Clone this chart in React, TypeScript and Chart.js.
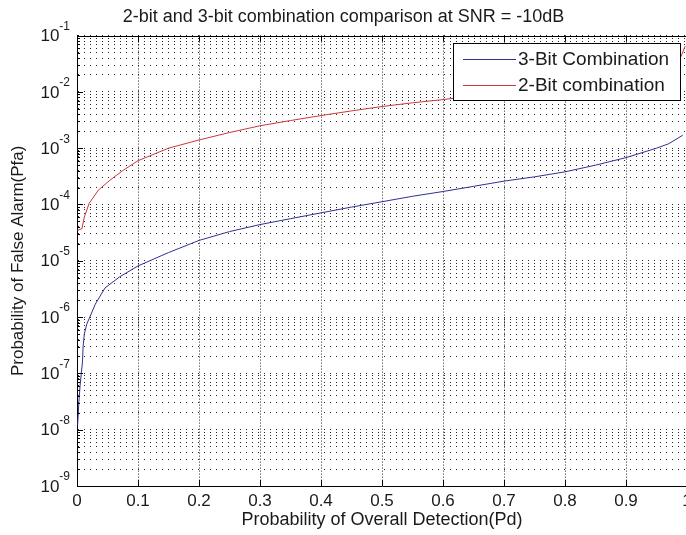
import React, { useEffect, useRef } from "react";
import { Chart, registerables } from "chart.js";

Chart.register(...registerables);

// ---------- data ----------
const TITLE = "2-bit and 3-bit combination comparison at SNR = -10dB";
const X_TITLE = "Probability of Overall Detection(Pd)";
const Y_TITLE = "Probability of False Alarm(Pfa)";
const SERIES_NAMES = ["3-Bit Combination", "2-Bit combination"];

const X_TICKS = [0, 0.1, 0.2, 0.3, 0.4, 0.5, 0.6, 0.7, 0.8, 0.9, 1];
const Y_EXPONENTS = [-9, -8, -7, -6, -5, -4, -3, -2, -1];

const pd3Bit = [
  0.001, 0.003, 0.005, 0.007, 0.009, 0.01, 0.012, 0.016, 0.021, 0.03, 0.046,
  0.07, 0.1, 0.15, 0.2, 0.25, 0.3, 0.35, 0.4, 0.45, 0.5, 0.55, 0.6, 0.65, 0.7,
  0.75, 0.8, 0.85, 0.9, 0.95, 0.97, 0.993,
];
const pfa3Bit = [
  1.2e-8, 3e-8, 6e-8, 1e-7, 1.6e-7, 3e-7, 5e-7, 7.5e-7, 1.0e-6, 1.7e-6, 3.3e-6,
  5.2e-6, 8.1e-6, 1.4e-5, 2.3e-5, 3.3e-5, 4.4e-5, 5.6e-5, 7.1e-5, 9e-5,
  1.12e-4, 1.4e-4, 1.7e-4, 2.1e-4, 2.6e-4, 3.1e-4, 3.8e-4, 5.0e-4, 6.8e-4,
  1.0e-3, 1.2e-3, 1.7e-3,
];

const pd2Bit = [
  0.001, 0.008, 0.012, 0.02, 0.035, 0.054, 0.075, 0.1, 0.15, 0.2, 0.25, 0.3,
  0.35, 0.4, 0.45, 0.5, 0.55, 0.6, 0.65, 0.7, 0.75, 0.8, 0.85, 0.9, 0.95, 0.98,
  0.99, 0.997,
];
const pfa2Bit = [
  3.5e-5, 3.7e-5, 6e-5, 1.05e-4, 1.8e-4, 2.7e-4, 4e-4, 6e-4, 1.0e-3, 1.4e-3,
  1.9e-3, 2.5e-3, 3.1e-3, 3.8e-3, 4.6e-3, 5.5e-3, 6.4e-3, 7.3e-3, 8.5e-3,
  1.0e-2, 1.2e-2, 1.45e-2, 1.8e-2, 2.3e-2, 2.8e-2, 3.5e-2, 4.2e-2, 6.5e-2,
];

// ---------- style ----------
const FONT = "'Liberation Sans', Arial, Helvetica, sans-serif";
const TEXT = "#1a1a1a";
const BLUE = "#2f3190";
const RED = "#c8393e";
const CANVAS_W = 700;
const CANVAS_H = 535;

const decorPlugin = {
  id: "matlabDecor",
  afterDraw(chart: any) {
    const { ctx, chartArea } = chart;
    const { left, right, top, bottom } = chartArea;
    const x = chart.scales.x;
    const y = chart.scales.y;
    ctx.save();

    // top & right border
    ctx.strokeStyle = "#000";
    ctx.lineWidth = 1;
    ctx.beginPath();
    ctx.moveTo(Math.round(left) + 0.5, Math.round(top) + 0.5);
    ctx.lineTo(Math.round(right) + 0.5, Math.round(top) + 0.5);
    ctx.lineTo(Math.round(right) + 0.5, Math.round(bottom) + 0.5);
    ctx.stroke();

    // inward tick marks on x (bottom and top)
    ctx.beginPath();
    for (const t of X_TICKS) {
      const px = Math.round(x.getPixelForValue(t)) + 0.5;
      ctx.moveTo(px, bottom);
      ctx.lineTo(px, bottom - 6);
      ctx.moveTo(px, top);
      ctx.lineTo(px, top + 6);
    }
    // inward tick marks on y (left), major + minor
    for (let e = -9; e <= -1; e++) {
      for (let m = 1; m <= 9; m++) {
        const v = m * Math.pow(10, e);
        if (v > 0.1 + 1e-12) break;
        const py = Math.round(y.getPixelForValue(v)) + 0.5;
        const len = m === 1 ? 6 : 3;
        ctx.moveTo(left, py);
        ctx.lineTo(left + len, py);
      }
    }
    ctx.stroke();

    // y tick labels: 10 with superscript exponent
    ctx.fillStyle = TEXT;
    ctx.textBaseline = "middle";
    for (const e of Y_EXPONENTS) {
      const py = y.getPixelForValue(Math.pow(10, e));
      const expText = String(e);
      ctx.font = `12px ${FONT}`;
      const w = ctx.measureText(expText).width;
      const xr = left - 7;
      ctx.textAlign = "left";
      ctx.fillText(expText, xr - w, py - 9);
      ctx.font = `17px ${FONT}`;
      ctx.textAlign = "right";
      ctx.fillText("10", xr - w, py + 1);
    }

    // legend box
    const bx = 453.5, by = 43.5, bw = 227, bh = 57;
    ctx.fillStyle = "#fff";
    ctx.fillRect(bx, by, bw, bh);
    ctx.strokeStyle = "#000";
    ctx.strokeRect(bx, by, bw, bh);
    const entries = [
      { name: SERIES_NAMES[0], color: BLUE, y: 59.5 },
      { name: SERIES_NAMES[1], color: RED, y: 85.5 },
    ];
    ctx.font = `19px ${FONT}`;
    ctx.textAlign = "left";
    ctx.textBaseline = "middle";
    for (const en of entries) {
      ctx.strokeStyle = en.color;
      ctx.beginPath();
      ctx.moveTo(463, en.y);
      ctx.lineTo(516, en.y);
      ctx.stroke();
      ctx.fillStyle = TEXT;
      ctx.fillText(en.name, 518, en.y);
    }
    ctx.restore();
  },
};

export default function App() {
  const ref = useRef<HTMLCanvasElement | null>(null);

  useEffect(() => {
    document.body.style.margin = "0";
    document.body.style.background = "#fff";
    const canvas = ref.current!;
    const toPts = (xs: number[], ys: number[]) => xs.map((v, i) => ({ x: v, y: ys[i] }));

    const chart = new Chart(canvas, {
      type: "line",
      data: {
        datasets: [
          {
            label: SERIES_NAMES[0],
            data: toPts(pd3Bit, pfa3Bit),
            borderColor: BLUE,
            borderWidth: 1,
            pointRadius: 0,
            tension: 0,
            fill: false,
          },
          {
            label: SERIES_NAMES[1],
            data: toPts(pd2Bit, pfa2Bit),
            borderColor: RED,
            borderWidth: 1,
            pointRadius: 0,
            tension: 0,
            fill: false,
          },
        ],
      },
      options: {
        animation: false,
        responsive: false,
        devicePixelRatio: 1,
        layout: { padding: { left: 0, right: 13, top: 0, bottom: 0 } },
        plugins: {
          legend: { display: false },
          tooltip: { enabled: false },
          title: {
            display: true,
            text: TITLE,
            color: TEXT,
            font: { family: FONT, size: 18, weight: "normal" },
            padding: { top: 6, bottom: 8 },
          },
        },
        scales: {
          x: {
            type: "linear",
            min: 0,
            max: 1,
            afterBuildTicks: (scale: any) => {
              scale.ticks = X_TICKS.map((v) => ({ value: v }));
            },
            afterFit: (scale: any) => {
              scale.height = 49;
            },
            ticks: {
              color: TEXT,
              font: { family: FONT, size: 17 },
              padding: 5,
              maxRotation: 0,
              autoSkip: false,
              callback: (v: any) => {
                const n = Number(v);
                if (n === 0) return "0";
                if (n === 1) return "1";
                return n.toFixed(1);
              },
            },
            grid: {
              color: "rgba(0,0,0,0.85)",
              lineWidth: 1,
              drawTicks: false,
            },
            border: { display: true, color: "#000", width: 1, dash: [1, 2] },
            title: {
              display: true,
              text: X_TITLE,
              color: TEXT,
              font: { family: FONT, size: 18 },
              padding: { top: 0, bottom: 4 },
            },
          },
          y: {
            type: "logarithmic",
            min: 1e-9,
            max: 1e-1,
            afterBuildTicks: (scale: any) => {
              const ticks: any[] = [];
              for (let e = -9; e <= -2; e++) {
                for (let m = 1; m <= 9; m++) ticks.push({ value: m * Math.pow(10, e) });
              }
              ticks.push({ value: 0.1 });
              scale.ticks = ticks;
            },
            afterFit: (scale: any) => {
              scale.width = 77;
            },
            ticks: { display: false },
            grid: {
              color: "rgba(0,0,0,0.85)",
              lineWidth: 1,
              drawTicks: false,
            },
            border: { display: true, color: "#000", width: 1, dash: [1, 5] },
            title: {
              display: true,
              text: Y_TITLE,
              color: TEXT,
              font: { family: FONT, size: 17 },
              padding: { top: 8, bottom: 0 },
            },
          },
        },
      },
      plugins: [decorPlugin],
    } as any);

    return () => chart.destroy();
  }, []);

  return (
    <div
      style={{
        position: "fixed",
        left: 0,
        top: 0,
        width: 686,
        height: 535,
        overflow: "hidden",
        background: "#fff",
      }}
    >
      <canvas
        ref={ref}
        width={CANVAS_W}
        height={CANVAS_H}
        style={{ width: CANVAS_W, height: CANVAS_H, display: "block" }}
      />
    </div>
  );
}
